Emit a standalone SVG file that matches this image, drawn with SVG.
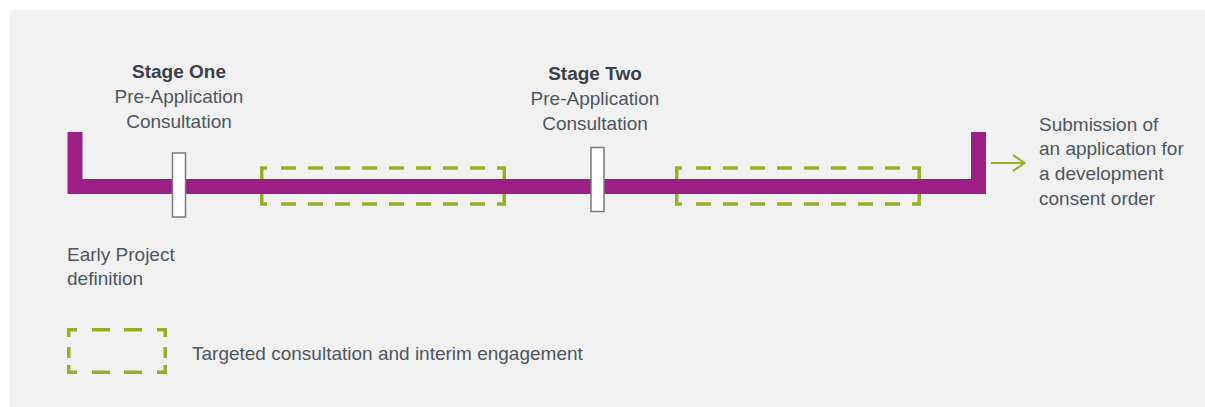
<svg xmlns="http://www.w3.org/2000/svg" width="1205" height="407" viewBox="0 0 1205 407">
<style>
text{font-family:"Liberation Sans",Arial,sans-serif;font-size:19px;fill:#4d5661}
.b{font-weight:bold;fill:#3a3f48}
.mid{text-anchor:middle}
.dash{fill:none;stroke:#95b024;stroke-width:3.5}
.bar{fill:none;stroke:#9c1f86;stroke-width:15;stroke-linejoin:miter}
.mark{fill:#ffffff;stroke:#7a7a7a;stroke-width:1.5}
</style>
<rect x="0" y="0" width="1205" height="407" fill="#ffffff"/>
<rect x="9.5" y="10" width="1210" height="410" rx="3" fill="#f1f1f1"/>
<g id="box1">
<path class="dash" d="M267,168 H261.75 V204 H267 M497,168 H504.25 V204 H497"/>
<path class="dash" d="M281,168 H485 M281,204 H485" stroke-dasharray="15 12"/>
</g>
<g id="box2">
<path class="dash" d="M682,168 H676.75 V204 H682 M912,168 H919.25 V204 H912"/>
<path class="dash" d="M696,168 H900 M696,204 H900" stroke-dasharray="15 12"/>
</g>
<g id="connectors">
<polyline class="bar" points="75,132 75,186.5 978.5,186.5 978.5,132"/>
<path d="M991,163 H1024 M1013,155 L1024.5,163 L1013,171" fill="none" stroke="#95b024" stroke-width="2"/>
</g>
<g id="stage-one">
<rect class="mark" x="172.5" y="153" width="13" height="64"/>
<text class="b mid" x="179" y="78">Stage One</text>
<text class="mid" x="179" y="103">Pre-Application</text>
<text class="mid" x="179" y="128">Consultation</text>
</g>
<g id="stage-two">
<rect class="mark" x="591" y="147.5" width="13" height="64"/>
<text class="b mid" x="595" y="80">Stage Two</text>
<text class="mid" x="595" y="105">Pre-Application</text>
<text class="mid" x="595" y="130">Consultation</text>
</g>
<g id="early">
<text x="67" y="260.5">Early Project</text>
<text x="67" y="284.5">definition</text>
</g>
<g id="submission">
<text x="1039" y="130.5">Submission of</text>
<text x="1039" y="155.2">an application for</text>
<text x="1039" y="179.9">a development</text>
<text x="1039" y="204.6">consent order</text>
</g>
<g id="legend">
<path class="dash" d="M77,329.75 H68.75 V337 M157,329.75 H165.25 V337 M77,372.25 H68.75 V365 M157,372.25 H165.25 V365 M68.75,347 V358 M165.25,347 V358"/>
<path class="dash" d="M92,329.75 H142 M92,372.25 H142" stroke-dasharray="18 14"/>
<text x="192" y="360">Targeted consultation and interim engagement</text>
</g>
</svg>
